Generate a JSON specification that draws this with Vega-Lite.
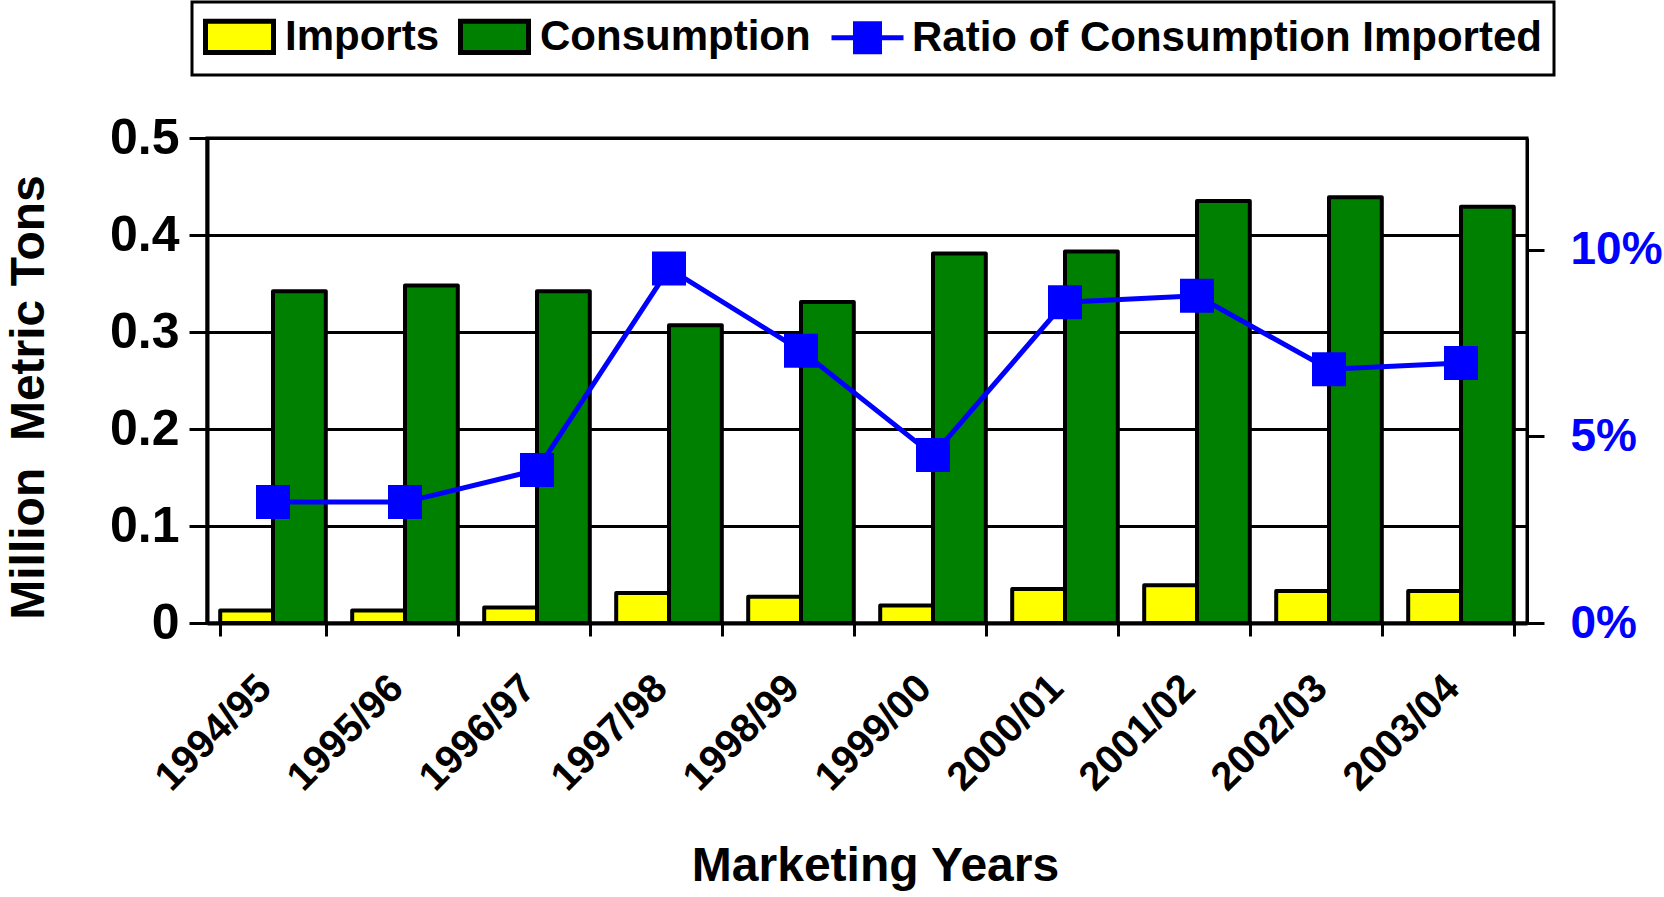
{
  "$schema": "https://vega.github.io/schema/vega-lite/v6.json",
  "autosize": {"type": "none"},
  "width": 1320,
  "height": 485,
  "padding": {"left": 207, "top": 138, "right": 137, "bottom": 274},
  "background": "white",
  "config": {
    "font": "Liberation Sans",
    "view": {"stroke": "black", "strokeWidth": 3},
    "legend": {"strokeWidth": 3},
    "axis": {"labelFont": "Liberation Sans", "titleFont": "Liberation Sans", "labelFontWeight": "bold", "titleFontWeight": "bold", "labelColor": "black", "titleColor": "black", "domainColor": "black", "tickColor": "black"}
  },
  "datasets": {
    "bars": [
      {"year": "1994/95", "series": "Imports", "value": 0.013},
      {"year": "1994/95", "series": "Consumption", "value": 0.342},
      {"year": "1995/96", "series": "Imports", "value": 0.013},
      {"year": "1995/96", "series": "Consumption", "value": 0.348},
      {"year": "1996/97", "series": "Imports", "value": 0.016},
      {"year": "1996/97", "series": "Consumption", "value": 0.342},
      {"year": "1997/98", "series": "Imports", "value": 0.031},
      {"year": "1997/98", "series": "Consumption", "value": 0.307},
      {"year": "1998/99", "series": "Imports", "value": 0.027},
      {"year": "1998/99", "series": "Consumption", "value": 0.331},
      {"year": "1999/00", "series": "Imports", "value": 0.018},
      {"year": "1999/00", "series": "Consumption", "value": 0.381},
      {"year": "2000/01", "series": "Imports", "value": 0.035},
      {"year": "2000/01", "series": "Consumption", "value": 0.383},
      {"year": "2001/02", "series": "Imports", "value": 0.039},
      {"year": "2001/02", "series": "Consumption", "value": 0.435},
      {"year": "2002/03", "series": "Imports", "value": 0.033},
      {"year": "2002/03", "series": "Consumption", "value": 0.439},
      {"year": "2003/04", "series": "Imports", "value": 0.033},
      {"year": "2003/04", "series": "Consumption", "value": 0.429}
    ],
    "ratio": [
      {"year": "1994/95", "ratio": 0.0324},
      {"year": "1995/96", "ratio": 0.0324},
      {"year": "1996/97", "ratio": 0.041},
      {"year": "1997/98", "ratio": 0.095},
      {"year": "1998/99", "ratio": 0.073},
      {"year": "1999/00", "ratio": 0.045},
      {"year": "2000/01", "ratio": 0.086},
      {"year": "2001/02", "ratio": 0.0877},
      {"year": "2002/03", "ratio": 0.068},
      {"year": "2003/04", "ratio": 0.0697}
    ]
  },
  "encoding": {
    "x": {
      "field": "year",
      "type": "nominal",
      "sort": null,
      "scale": {"paddingInner": 0.2, "paddingOuter": 0.1},
      "axis": {
        "title": "Marketing Years",
        "titleFontSize": 48,
        "titlePadding": 45,
        "titleX": 668,
        "labelAngle": -45,
        "labelAlign": "right",
        "labelBaseline": "alphabetic",
        "labelFontSize": 40,
        "labelPadding": 54,
        "labelDx": -10,
        "tickBand": "extent",
        "tickSize": 13,
        "tickWidth": 3,
        "domainWidth": 4,
        "grid": false
      }
    }
  },
  "layer": [
    {
      "data": {"name": "bars"},
      "mark": {"type": "bar", "stroke": "black", "strokeWidth": 4, "strokeJoin": "round"},
      "encoding": {
        "xOffset": {"field": "series", "type": "nominal", "sort": ["Imports", "Consumption"], "scale": {"paddingInner": 0, "paddingOuter": 0}},
        "y": {
          "field": "value",
          "type": "quantitative",
          "scale": {"domain": [0, 0.5]},
          "axis": {
            "title": "Million\u00a0 Metric Tons",
            "titleFontSize": 48,
            "titlePadding": 56,
            "titleY": 259,
            "values": [0, 0.1, 0.2, 0.3, 0.4, 0.5],
            "labelExpr": "datum.value == 0 ? '0' : format(datum.value, '.1f')",
            "labelFontSize": 50,
            "labelPadding": 10,
            "tickSize": 18,
            "tickWidth": 3,
            "domainWidth": 4,
            "grid": true,
            "gridColor": "black",
            "gridWidth": 3,
            "gridOpacity": 1
          }
        },
        "color": {
          "field": "series",
          "type": "nominal",
          "scale": {"domain": ["Imports", "Consumption", "Ratio of Consumption Imported"], "range": ["#FFFF00", "#008000", "#0000FF"]}
        }
      }
    },
    {
      "data": {"name": "ratio"},
      "mark": {"type": "line", "color": "#0000FF", "strokeWidth": 5, "point": {"shape": "square", "size": 1156, "filled": true, "opacity": 1, "color": "#0000FF"}},
      "encoding": {
        "y": {
          "field": "ratio",
          "type": "quantitative",
          "scale": {"domain": [0, 0.13]},
          "axis": {
            "orient": "right",
            "title": null,
            "values": [0, 0.05, 0.1],
            "format": ".0%",
            "labelColor": "#0000FF",
            "labelFontSize": 46,
            "labelPadding": 26,
            "tickSize": 17,
            "tickWidth": 3,
            "domainWidth": 3,
            "grid": false
          }
        }
      }
    },
    {
      "data": {"name": "bars"},
      "mark": {"type": "point", "filled": true, "opacity": 0, "size": 10},
      "encoding": {
        "xOffset": {"field": "series", "type": "nominal", "sort": ["Imports", "Consumption"], "scale": {"paddingInner": 0, "paddingOuter": 0}},
        "y": {"field": "value", "type": "quantitative", "scale": {"domain": [0, 0.5]}, "axis": null},
        "color": {
          "field": "series",
          "type": "nominal",
          "scale": {"domain": ["Imports", "Consumption", "Ratio of Consumption Imported"], "range": ["#FFFF00", "#008000", "#0000FF"]},
          "legend": {
            "title": null,
            "orient": "none",
            "legendX": -15,
            "legendY": -136,
            "direction": "horizontal",
            "columns": 3,
            "columnPadding": 10,
            "padding": 12,
            "fillColor": "white",
            "strokeColor": "black",
            "labelFont": "Liberation Sans",
            "labelFontWeight": "bold",
            "labelFontSize": 42,
            "labelColor": "black",
            "labelLimit": 0,
            "labelOffset": 36,
            "symbolSize": 1600,
            "symbolOpacity": 1,
            "symbolStrokeWidth": 5
          }
        },
        "shape": {
          "field": "series",
          "type": "nominal",
          "scale": {"domain": ["Imports", "Consumption", "Ratio of Consumption Imported"], "range": ["M-1.05,-0.78H2.35V0.78H-1.05Z", "M-1.05,-0.78H2.35V0.78H-1.05Z", "M-1.1,0H2.5M0.1,-0.7H1.3V0.7H0.1Z"]}
        },
        "stroke": {
          "field": "series",
          "type": "nominal",
          "scale": {"domain": ["Imports", "Consumption", "Ratio of Consumption Imported"], "range": ["black", "black", "#0000FF"]}
        }
      }
    }
  ],
  "resolve": {"scale": {"y": "independent"}}
}
